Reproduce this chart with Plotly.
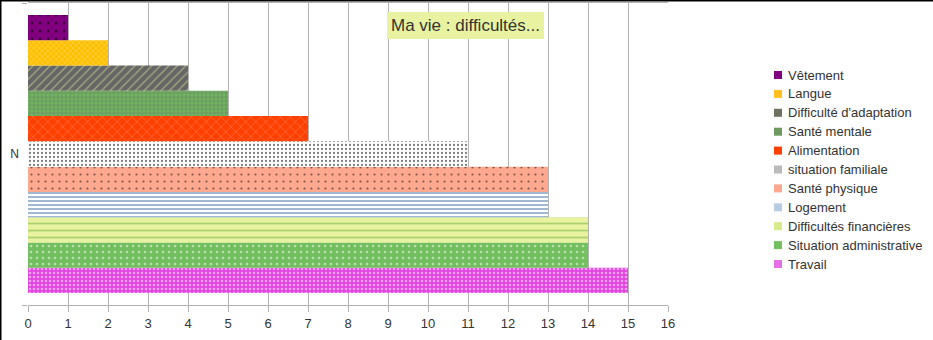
import plotly.graph_objects as go

category = ["N"]
series_names = ["Travail", "Situation administrative", "Difficultés financières", "Logement",
                "Santé physique", "situation familiale", "Alimentation", "Santé mentale",
                "Difficulté d'adaptation", "Langue", "Vêtement"]
series_values = [15, 14, 14, 13, 13, 11, 7, 5, 4, 2, 1]
x_ticks = list(range(0, 17))
title_text = "Ma vie : difficultés..."

styles = {
    "Travail": dict(bg="#e244e2", fg="#ffffff", shape=".", size=4, sol=0.35, sym="#e66ee6"),
    "Situation administrative": dict(bg="#72bf5f", fg="#ffffff", shape=".", size=6, sol=0.15, sym="#72bf5f"),
    "Difficultés financières": dict(bg="#e8f2a1", fg="#6cb33f", shape="-", size=7, sol=0.25, sym="#d6ec8a"),
    "Logement": dict(bg="#ffffff", fg="#2a6099", shape="-", size=4, sol=0.45, sym="#b8cce4"),
    "Santé physique": dict(bg="#ffa890", fg="#000000", shape=".", size=7, sol=0.08, sym="#ffa890"),
    "situation familiale": dict(bg="#ffffff", fg="#000000", shape=".", size=4, sol=0.25, sym="#bbbbbb"),
    "Alimentation": dict(bg="#ff4000", fg="#ff9a80", shape="x", size=7, sol=0.2, sym="#ff4000"),
    "Santé mentale": dict(bg="#70b660", fg="#666666", shape="+", size=4, sol=0.35, sym="#6e9a60"),
    "Difficulté d'adaptation": dict(bg="#666666", fg="#e8f2a1", shape="/", size=6, sol=0.2, sym="#707060"),
    "Langue": dict(bg="#ffbf00", fg="#fff2a0", shape="x", size=4, sol=0.3, sym="#ffc020"),
    "Vêtement": dict(bg="#800080", fg="#000000", shape=".", size=8, sol=0.1, sym="#800080"),
}

fig = go.Figure()
for name, val in zip(series_names, series_values):
    s = styles[name]
    fig.add_trace(go.Bar(
        y=category, x=[val], name=name, orientation="h", showlegend=False,
        marker=dict(color=s["bg"], line=dict(width=0),
                    pattern=dict(shape=s["shape"], fgcolor=s["fg"], bgcolor=s["bg"],
                                 size=s["size"], solidity=s["sol"], fillmode="overlay")),
    ))

W, H = 933, 340
L, R, T, B = 28, 668, 3, 305
PW, PH = R - L, B - T


def px(x):
    return (x - L) / PW


def py(y):
    return (B - y) / PH


fig.update_layout(
    width=W, height=H,
    margin=dict(l=L, r=W - R, t=T, b=H - B, pad=0),
    paper_bgcolor="white", plot_bgcolor="white",
    barmode="group", bargap=0.08, bargroupgap=0,
    font=dict(family="Liberation Sans, Arial, sans-serif", size=13, color="#333333"),
    showlegend=False,
    xaxis=dict(range=[0, 16], tickvals=x_ticks, showgrid=True, gridcolor="#b3b3b3",
               gridwidth=1, showline=True, linecolor="#b3b3b3", mirror=True,
               ticks="outside", ticklen=6, tickcolor="#b3b3b3", zeroline=False,
               tickfont=dict(size=13, color="#333333")),
    yaxis=dict(type="category", showgrid=False, showline=False, ticks="outside",
               tickson="boundaries", ticklen=5, tickcolor="#b3b3b3",
               tickfont=dict(size=12, color="#333333"), ticklabelstandoff=8),
)

# legend drawn manually (Vêtement on top)
legend_order = list(reversed(series_names))
for i, name in enumerate(legend_order):
    yc = 75 + i * 18.9
    fig.add_shape(type="rect", xref="paper", yref="paper",
                  x0=px(774), x1=px(782), y0=py(yc + 4), y1=py(yc - 4),
                  fillcolor=styles[name]["sym"], line=dict(width=0))
    fig.add_annotation(text=name, xref="paper", yref="paper", x=px(786), y=py(yc),
                       xanchor="left", yanchor="middle", showarrow=False,
                       font=dict(size=13, color="#333333"))

# title box
fig.add_annotation(
    text=title_text, xref="paper", yref="paper",
    x=px(465.5), y=py(25.5), xanchor="center", yanchor="middle",
    showarrow=False, font=dict(size=17, color="#333333"),
    bgcolor="#e8f2a1", borderpad=4, borderwidth=0,
)

# image frame (left and top black lines)
fig.add_shape(type="line", xref="paper", yref="paper",
              x0=px(0.75), x1=px(0.75), y0=py(H), y1=py(0),
              line=dict(color="black", width=1.5))
fig.add_shape(type="line", xref="paper", yref="paper",
              x0=px(0), x1=px(W), y0=py(0.75), y1=py(0.75),
              line=dict(color="black", width=1.5))

fig.write_html("out.html")
